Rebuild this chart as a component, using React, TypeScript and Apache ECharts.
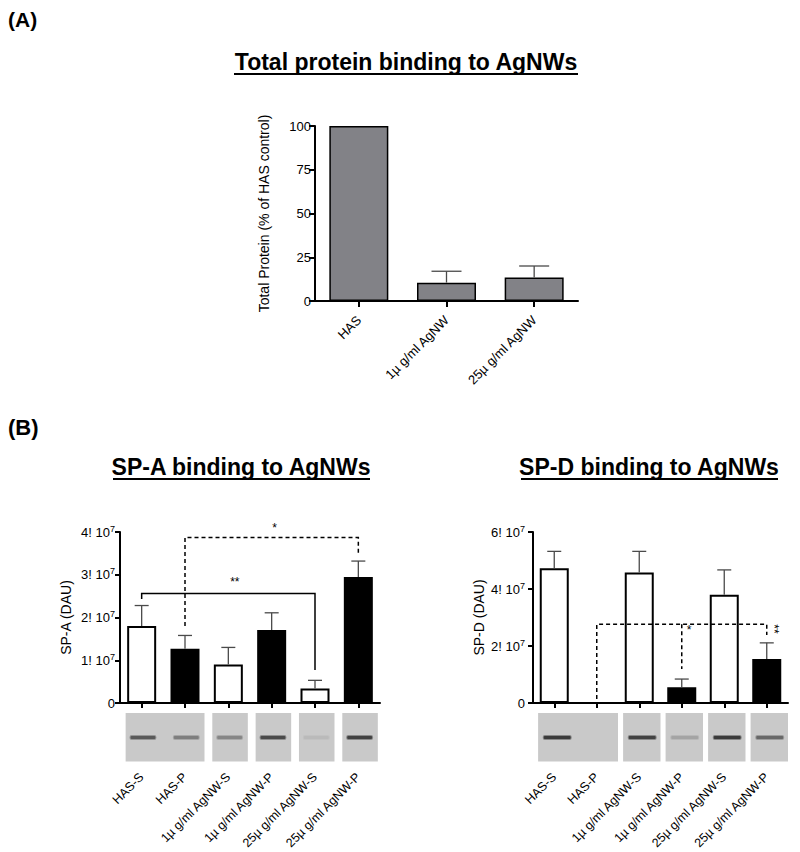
import React, { useEffect, useRef } from "react";
import * as echarts from "echarts";

const FONT = '"Liberation Sans", Arial, Helvetica, sans-serif';

// ---- Panel A data ----
const totalCategories = ["HAS", "1µ g/ml AgNW", "25µ g/ml AgNW"];
const totalValues = [100, 10.5, 13.5];
const totalErrorTops = [null, 17, 20];
const totalTicks = [0, 25, 50, 75, 100];

// ---- Panel B data ----
const spCategories = [
  "HAS-S",
  "HAS-P",
  "1µ g/ml AgNW-S",
  "1µ g/ml AgNW-P",
  "25µ g/ml AgNW-S",
  "25µ g/ml AgNW-P",
];
const spaValues = [1.8e7, 1.27e7, 0.9e7, 1.71e7, 0.34e7, 2.95e7];
const spaErrorTops = [2.28e7, 1.58e7, 1.3e7, 2.11e7, 0.53e7, 3.32e7];
const spdValues = [4.73e7, 0, 4.58e7, 0.55e7, 3.8e7, 1.54e7];
const spdErrorTops = [5.32e7, null, 5.32e7, 0.84e7, 4.67e7, 2.11e7];

// western-blot band strength per lane (0 = no band)
const spaBandStrength = [0.75, 0.5, 0.45, 0.85, 0.1, 0.9];
const spdBandStrength = [0.95, 0, 0.9, 0.25, 0.95, 0.65];
// blot panels: lanes grouped on one membrane strip
const spaBlotPanels = [[0, 1], [2, 2], [3, 3], [4, 4], [5, 5]];
const spdBlotPanels = [[0, 1], [2, 2], [3, 3], [4, 4], [5, 5]];

// significance brackets
const spaBrackets = [
  { from: 0, fromY: 2.43e7, to: 4, toY: 0.77e7, top: 2.56e7, dashed: false },
  { from: 1, fromY: 1.8e7, to: 5, toY: 3.51e7, top: 3.87e7, dashed: true },
];
const spaDrops: { at: number; fromY: number; toY: number; dashed: boolean }[] = [];
const spaMarks = [
  { x: 2.15, y: 2.83e7, text: "**", vertical: false },
  { x: 3.07, y: 4.09e7, text: "*", vertical: false },
];
const spdBrackets = [
  { from: 1, fromY: 0.14e7, to: 5, toY: 2.39e7, top: 2.76e7, dashed: true },
];
const spdDrops = [{ at: 3, fromY: 2.76e7, toY: 1.19e7, dashed: true }];
const spdMarks = [
  { x: 3.17, y: 2.56e7, text: "*", vertical: false },
  { x: 5.17, y: 2.6e7, text: "**", vertical: true },
];

function xAt(api: any, v: number) {
  const i = Math.floor(v);
  const p = api.coord([i, 0])[0];
  const w = api.size([1, 0])[0];
  return p + (v - i) * w;
}

function errorSeries(xi: number, yi: number, values: number[], tops: (number | null)[], capHalf: number) {
  return {
    type: "custom",
    xAxisIndex: xi,
    yAxisIndex: yi,
    z: 5,
    silent: true,
    data: values.map((v, i) => [i, v, tops[i]]).filter((d) => d[2] != null),
    encode: { x: 0, y: 1 },
    renderItem: (params: any, api: any) => {
      const i = api.value(0);
      const p0 = api.coord([i, api.value(1)]);
      const p1 = api.coord([i, api.value(2)]);
      const st = { stroke: "#4a4a4a", lineWidth: 1.3 };
      return {
        type: "group",
        children: [
          { type: "line", shape: { x1: p0[0], y1: p0[1], x2: p1[0], y2: p1[1] }, style: st },
          { type: "line", shape: { x1: p1[0] - capHalf, y1: p1[1], x2: p1[0] + capHalf, y2: p1[1] }, style: st },
        ],
      };
    },
  };
}

function bracketSeries(xi: number, yi: number, brackets: any[], drops: any[], marks: any[]) {
  return {
    type: "custom",
    xAxisIndex: xi,
    yAxisIndex: yi,
    z: 6,
    silent: true,
    data: [[0, 0]],
    encode: { x: 0, y: 1 },
    renderItem: (params: any, api: any) => {
      const children: any[] = [];
      brackets.forEach((b) => {
        const xf = xAt(api, b.from);
        const xt = xAt(api, b.to);
        const y0 = api.coord([0, b.fromY])[1];
        const yT = api.coord([0, b.top])[1];
        const y1 = api.coord([0, b.toY])[1];
        children.push({
          type: "polyline",
          shape: { points: [[xf, y0], [xf, yT], [xt, yT], [xt, y1]] },
          style: { stroke: "#000", lineWidth: 1.5, fill: "none", lineDash: b.dashed ? [4, 3] : null },
        });
      });
      drops.forEach((d) => {
        const x = xAt(api, d.at);
        children.push({
          type: "line",
          shape: { x1: x, y1: api.coord([0, d.fromY])[1], x2: x, y2: api.coord([0, d.toY])[1] },
          style: { stroke: "#000", lineWidth: 1.5, lineDash: d.dashed ? [4, 3] : null },
        });
      });
      marks.forEach((m) => {
        children.push({
          type: "text",
          x: xAt(api, m.x),
          y: api.coord([0, m.y])[1],
          rotation: m.vertical ? -Math.PI / 2 : 0,
          style: { text: m.text, font: `12px ${FONT}`, fill: "#000", align: "center", verticalAlign: "middle" },
        });
      });
      return { type: "group", children };
    },
  };
}

function blotSeries(xi: number, yi: number, panels: number[][], strength: number[], lay: any) {
  return {
    type: "custom",
    xAxisIndex: xi,
    yAxisIndex: yi,
    z: 1,
    silent: true,
    data: panels.map((p) => [p[0], 0, p[1]]),
    encode: { x: 0, y: 1 },
    renderItem: (params: any, api: any) => {
      const a = api.value(0);
      const b = api.value(2);
      const bw = api.size([1, 0])[0];
      const axisY = api.coord([0, 0])[1];
      const xa = api.coord([a, 0])[0];
      const xb = api.coord([b, 0])[0];
      const children: any[] = [
        {
          type: "rect",
          shape: { x: xa - lay.padL * bw, y: axisY + 10, width: xb - xa + (lay.padL + lay.padR) * bw, height: 48.5 },
          style: { fill: "#c9c9c9" },
        },
      ];
      for (let i = a; i <= b; i++) {
        const s = strength[i];
        if (!s) continue;
        const xc = api.coord([i, 0])[0];
        const x0 = xc - lay.bandL * bw;
        const w = (lay.bandL + lay.bandR) * bw;
        const c = Math.round(201 - s * 150);
        const c2 = Math.round(201 - s * 70);
        children.push({
          type: "rect",
          shape: { x: x0, y: axisY + 32, width: w, height: 5, r: 2 },
          style: { fill: `rgb(${c2},${c2},${c2})` },
        });
        children.push({
          type: "rect",
          shape: { x: x0 + 1, y: axisY + 33, width: w - 2, height: 3, r: 1 },
          style: { fill: `rgb(${c},${c},${c})` },
        });
      }
      return { type: "group", children };
    },
  };
}

const supFormatter = (v: number) => (v === 0 ? "0" : `{m|${Math.round(v / 1e7)}! 10}{s|7}`);

function spYAxis(gridIndex: number, max: number, interval: number, name: string, nameGap: number, margin: number) {
  return {
    type: "value",
    gridIndex,
    min: 0,
    max,
    interval,
    name,
    nameLocation: "middle",
    nameGap,
    nameTextStyle: { fontFamily: FONT, fontSize: 14, color: "#000" },
    axisLine: { show: true, lineStyle: { color: "#000", width: 2 } },
    axisTick: { show: true, length: 5, lineStyle: { color: "#000", width: 2 } },
    splitLine: { show: false },
    axisLabel: {
      color: "#000",
      fontFamily: FONT,
      fontSize: 13,
      margin,
      formatter: supFormatter,
      rich: {
        m: { fontFamily: FONT, fontSize: 13, color: "#000", lineHeight: 16 },
        s: { fontFamily: FONT, fontSize: 9, color: "#000", verticalAlign: "top", lineHeight: 9 },
      },
    },
  };
}

function spXAxis(gridIndex: number) {
  return {
    type: "category",
    gridIndex,
    data: spCategories,
    axisLine: { show: true, lineStyle: { color: "#000", width: 2 } },
    axisTick: { show: true, alignWithLabel: true, length: 5, lineStyle: { color: "#000", width: 2 } },
    axisLabel: { rotate: 45, interval: 0, margin: 72, fontFamily: FONT, fontSize: 12.5, color: "#000" },
  };
}

const spColor = (p: any) => (p.dataIndex % 2 === 0 ? "#ffffff" : "#000000");

export default function App() {
  const ref = useRef<HTMLDivElement>(null);
  useEffect(() => {
    if (!ref.current) return;
    const chart = echarts.init(ref.current, null, { renderer: "svg" });
    const option: any = {
      animation: false,
      backgroundColor: "#ffffff",
      grid: [
        { left: 315, top: 126, width: 263, height: 175, outerBoundsMode: "none" },
        { left: 120, top: 532, width: 260, height: 171, outerBoundsMode: "none" },
        { left: 533, top: 532, width: 255, height: 171, outerBoundsMode: "none" },
      ],
      xAxis: [
        {
          type: "category",
          gridIndex: 0,
          data: totalCategories,
          axisLine: { show: true, lineStyle: { color: "#000", width: 2 } },
          axisTick: { show: true, alignWithLabel: true, length: 6, lineStyle: { color: "#000", width: 2 } },
          axisLabel: { rotate: 45, interval: 0, margin: 17, fontFamily: FONT, fontSize: 13, color: "#000" },
        },
        spXAxis(1),
        spXAxis(2),
      ],
      yAxis: [
        {
          type: "value",
          gridIndex: 0,
          min: totalTicks[0],
          max: totalTicks[totalTicks.length - 1],
          interval: totalTicks[1] - totalTicks[0],
          name: "Total Protein (% of HAS control)",
          nameLocation: "middle",
          nameGap: 44,
          nameTextStyle: { fontFamily: FONT, fontSize: 14, color: "#000" },
          axisLine: { show: true, lineStyle: { color: "#000", width: 2 } },
          axisTick: { show: true, length: 6, lineStyle: { color: "#000", width: 2 } },
          splitLine: { show: false },
          axisLabel: { color: "#000", fontFamily: FONT, fontSize: 13, margin: 4 },
        },
        spYAxis(1, 4e7, 1e7, "SP-A (DAU)", 47, 5),
        spYAxis(2, 6e7, 2e7, "SP-D (DAU)", 47, 8),
      ],
      series: [
        {
          type: "bar",
          xAxisIndex: 0,
          yAxisIndex: 0,
          data: totalValues,
          barWidth: 59,
          itemStyle: { color: "#828287", borderColor: "#000", borderWidth: 1.5 },
          silent: true,
        },
        errorSeries(0, 0, totalValues, totalErrorTops, 15),
        {
          type: "bar",
          xAxisIndex: 1,
          yAxisIndex: 1,
          data: spaValues,
          barWidth: 29,
          itemStyle: { color: spColor, borderColor: "#000", borderWidth: 2 },
          silent: true,
        },
        errorSeries(1, 1, spaValues, spaErrorTops, 7),
        bracketSeries(1, 1, spaBrackets, spaDrops, spaMarks),
        blotSeries(1, 1, spaBlotPanels, spaBandStrength, { padL: 0.37, padR: 0.45, bandL: 0.28, bandR: 0.34 }),
        {
          type: "bar",
          xAxisIndex: 2,
          yAxisIndex: 2,
          data: spdValues,
          barWidth: 29,
          itemStyle: { color: spColor, borderColor: "#000", borderWidth: 2 },
          silent: true,
        },
        errorSeries(2, 2, spdValues, spdErrorTops, 7),
        bracketSeries(2, 2, spdBrackets, spdDrops, spdMarks),
        blotSeries(2, 2, spdBlotPanels, spdBandStrength, { padL: 0.38, padR: 0.5, bandL: 0.27, bandR: 0.41 }),
      ],
      graphic: [
        { type: "text", x: 8, y: 9, style: { text: "(A)", font: `bold 21px ${FONT}`, fill: "#000" } },
        {
          type: "text",
          x: 406,
          y: 62,
          style: { text: "Total protein binding to AgNWs", font: `bold 23px ${FONT}`, fill: "#000", align: "center", verticalAlign: "middle", textAlign: "center", textVerticalAlign: "middle" },
        },
        { type: "line", shape: { x1: 234, y1: 74, x2: 578, y2: 74 }, style: { stroke: "#000", lineWidth: 2 } },
        { type: "text", x: 8, y: 416, style: { text: "(B)", font: `bold 22px ${FONT}`, fill: "#000" } },
        {
          type: "text",
          x: 241,
          y: 467,
          style: { text: "SP-A binding to AgNWs", font: `bold 23px ${FONT}`, fill: "#000", align: "center", verticalAlign: "middle", textAlign: "center", textVerticalAlign: "middle" },
        },
        { type: "line", shape: { x1: 113, y1: 479, x2: 370, y2: 479 }, style: { stroke: "#000", lineWidth: 2 } },
        {
          type: "text",
          x: 649,
          y: 467,
          style: { text: "SP-D binding to AgNWs", font: `bold 23px ${FONT}`, fill: "#000", align: "center", verticalAlign: "middle", textAlign: "center", textVerticalAlign: "middle" },
        },
        { type: "line", shape: { x1: 521, y1: 479, x2: 778, y2: 479 }, style: { stroke: "#000", lineWidth: 2 } },
      ],
    };
    chart.setOption(option);
    return () => chart.dispose();
  }, []);
  return <div ref={ref} style={{ position: "absolute", left: 0, top: 0, width: 800, height: 852 }} />;
}
